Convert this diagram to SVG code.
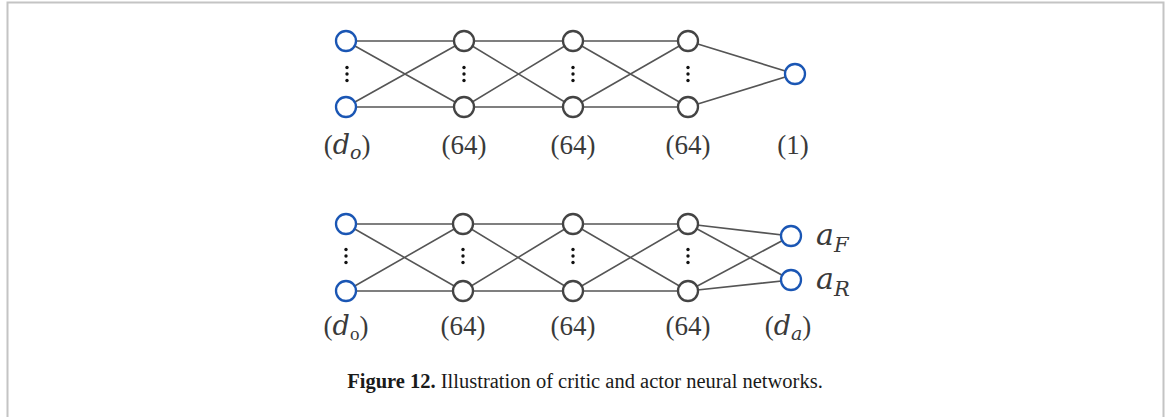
<svg xmlns="http://www.w3.org/2000/svg" width="1170" height="417" viewBox="0 0 1170 417">
  <style>
    .frame { fill: none; stroke: #c4c4c4; stroke-width: 2; }
    .edge { stroke: #555555; stroke-width: 1.6; fill: none; }
    .io { fill: #ffffff; stroke: #1a56b4; stroke-width: 2.3; }
    .hid { fill: #ffffff; stroke: #444444; stroke-width: 2.3; }
    .dot { fill: #111111; }
    .lbl { font-family: "Liberation Serif", serif; font-size: 27px; fill: #3a3a3a; text-anchor: middle; }
    .sym { font-family: "DejaVu Serif", "Liberation Serif", serif; font-size: 30px; fill: #3a3a3a; }
    .math { font-family: "DejaVu Serif", "Liberation Serif", serif; font-style: italic; fill: #3a3a3a; }
    .cap { font-family: "Liberation Serif", serif; font-size: 20.5px; fill: #1a1a1a; text-anchor: middle; }
  </style>
  <defs>
    <g id="vdots">
      <circle class="dot" cx="0" cy="-6.5" r="1.7"/>
      <circle class="dot" cx="0" cy="0" r="1.7"/>
      <circle class="dot" cx="0" cy="6.5" r="1.7"/>
    </g>
  </defs>

  <!-- page frame, open at the bottom -->
  <path class="frame" d="M7.5,417 V2.5 H1163.5 V417"/>

  <!-- critic network: connectors -->
  <g id="critic-edges">
    <path class="edge" d="M346,41 L464,41 M346,41 L464,107 M346,107 L464,41 M346,107 L464,107"/>
    <path class="edge" d="M464,41 L573,41 M464,41 L573,107 M464,107 L573,41 M464,107 L573,107"/>
    <path class="edge" d="M573,41 L688,41 M573,41 L688,107 M573,107 L688,41 M573,107 L688,107"/>
    <path class="edge" d="M688,41 L795,74 M688,107 L795,74"/>
  </g>

  <!-- critic network: nodes -->
  <g id="critic-input">
    <circle class="io" cx="346" cy="41" r="10"/>
    <use href="#vdots" x="347" y="74"/>
    <circle class="io" cx="346" cy="107" r="10"/>
    <text class="lbl" x="347" y="154">(<tspan class="math">d</tspan><tspan class="math" font-size="19" dy="5">o</tspan><tspan dy="-5">)</tspan></text>
  </g>
  <g id="critic-hidden1">
    <circle class="hid" cx="464" cy="41" r="10"/>
    <use href="#vdots" x="464" y="74"/>
    <circle class="hid" cx="464" cy="107" r="10"/>
    <text class="lbl" x="464" y="154">(64)</text>
  </g>
  <g id="critic-hidden2">
    <circle class="hid" cx="573" cy="41" r="10"/>
    <use href="#vdots" x="573" y="74"/>
    <circle class="hid" cx="573" cy="107" r="10"/>
    <text class="lbl" x="573" y="154">(64)</text>
  </g>
  <g id="critic-hidden3">
    <circle class="hid" cx="688" cy="41" r="10"/>
    <use href="#vdots" x="688" y="74"/>
    <circle class="hid" cx="688" cy="107" r="10"/>
    <text class="lbl" x="688" y="154">(64)</text>
  </g>
  <g id="critic-output">
    <circle class="io" cx="795" cy="74" r="10"/>
    <text class="lbl" x="793" y="154">(1)</text>
  </g>

  <!-- actor network: connectors -->
  <g id="actor-edges">
    <path class="edge" d="M346,224 L463,224 M346,224 L463,291 M346,291 L463,224 M346,291 L463,291"/>
    <path class="edge" d="M463,224 L573,224 M463,224 L573,291 M463,291 L573,224 M463,291 L573,291"/>
    <path class="edge" d="M573,224 L688,224 M573,224 L688,291 M573,291 L688,224 M573,291 L688,291"/>
    <path class="edge" d="M688,224 L791,236 M688,224 L791,280 M688,291 L791,236 M688,291 L791,280"/>
  </g>

  <!-- actor network: nodes -->
  <g id="actor-input">
    <circle class="io" cx="346" cy="224" r="10"/>
    <use href="#vdots" x="346" y="256"/>
    <circle class="io" cx="346" cy="291" r="10"/>
    <text class="lbl" x="346" y="335">(<tspan class="math">d</tspan><tspan font-size="19" dy="5">o</tspan><tspan dy="-5">)</tspan></text>
  </g>
  <g id="actor-hidden1">
    <circle class="hid" cx="463" cy="224" r="10"/>
    <use href="#vdots" x="463" y="256"/>
    <circle class="hid" cx="463" cy="291" r="10"/>
    <text class="lbl" x="463" y="335">(64)</text>
  </g>
  <g id="actor-hidden2">
    <circle class="hid" cx="573" cy="224" r="10"/>
    <use href="#vdots" x="573" y="256"/>
    <circle class="hid" cx="573" cy="291" r="10"/>
    <text class="lbl" x="573" y="335">(64)</text>
  </g>
  <g id="actor-hidden3">
    <circle class="hid" cx="688" cy="224" r="10"/>
    <use href="#vdots" x="688" y="256"/>
    <circle class="hid" cx="688" cy="291" r="10"/>
    <text class="lbl" x="688" y="335">(64)</text>
  </g>
  <g id="actor-output">
    <circle class="io" cx="791" cy="236" r="10"/>
    <circle class="io" cx="791" cy="280" r="10"/>
    <text class="lbl" x="788" y="335">(<tspan class="math">d</tspan><tspan class="math" font-size="19" dy="5">a</tspan><tspan dy="-5">)</tspan></text>
    <text class="sym" x="816" y="245"><tspan class="math">a</tspan><tspan class="math" font-size="21" dy="7">F</tspan></text>
    <text class="sym" x="816" y="289"><tspan class="math">a</tspan><tspan class="math" font-size="21" dy="7">R</tspan></text>
  </g>

  <!-- caption -->
  <text class="cap" x="585" y="388"><tspan font-weight="bold">Figure 12.</tspan> Illustration of critic and actor neural networks.</text>
</svg>
